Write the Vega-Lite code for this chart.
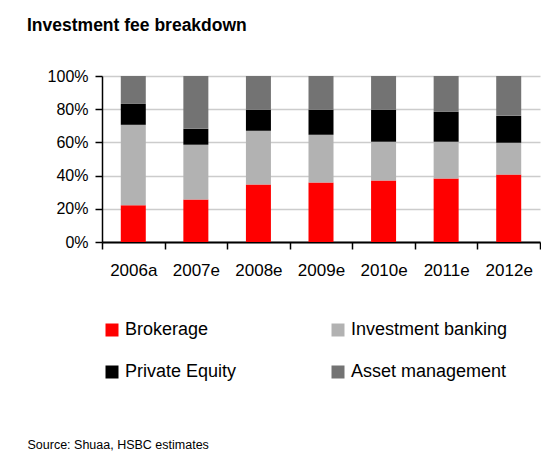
{
  "$schema": "https://vega.github.io/schema/vega-lite/v6.json",
  "width": 438,
  "height": 166,
  "autosize": "none",
  "padding": {"left": 102, "top": 76, "right": 1, "bottom": 212},
  "background": "white",
  "title": {
    "text": "Investment fee breakdown",
    "anchor": "start",
    "frame": "group",
    "dx": -75,
    "offset": 20,
    "fontSize": 17.5,
    "fontWeight": "bold",
    "font": "Liberation Sans",
    "color": "black",
    "baseline": "alphabetic"
  },
  "data": {
    "values": [
      {"year": "2006a", "segment": "Brokerage", "k": 1, "share": 22.2},
      {"year": "2006a", "segment": "Investment banking", "k": 2, "share": 48.4},
      {"year": "2006a", "segment": "Private Equity", "k": 3, "share": 12.6},
      {"year": "2006a", "segment": "Asset management", "k": 4, "share": 16.8},
      {"year": "2007e", "segment": "Brokerage", "k": 1, "share": 25.6},
      {"year": "2007e", "segment": "Investment banking", "k": 2, "share": 33.0},
      {"year": "2007e", "segment": "Private Equity", "k": 3, "share": 9.6},
      {"year": "2007e", "segment": "Asset management", "k": 4, "share": 31.8},
      {"year": "2008e", "segment": "Brokerage", "k": 1, "share": 34.6},
      {"year": "2008e", "segment": "Investment banking", "k": 2, "share": 32.4},
      {"year": "2008e", "segment": "Private Equity", "k": 3, "share": 12.6},
      {"year": "2008e", "segment": "Asset management", "k": 4, "share": 20.4},
      {"year": "2009e", "segment": "Brokerage", "k": 1, "share": 35.8},
      {"year": "2009e", "segment": "Investment banking", "k": 2, "share": 28.8},
      {"year": "2009e", "segment": "Private Equity", "k": 3, "share": 15.0},
      {"year": "2009e", "segment": "Asset management", "k": 4, "share": 20.4},
      {"year": "2010e", "segment": "Brokerage", "k": 1, "share": 37.0},
      {"year": "2010e", "segment": "Investment banking", "k": 2, "share": 23.4},
      {"year": "2010e", "segment": "Private Equity", "k": 3, "share": 19.2},
      {"year": "2010e", "segment": "Asset management", "k": 4, "share": 20.4},
      {"year": "2011e", "segment": "Brokerage", "k": 1, "share": 38.2},
      {"year": "2011e", "segment": "Investment banking", "k": 2, "share": 22.2},
      {"year": "2011e", "segment": "Private Equity", "k": 3, "share": 18.0},
      {"year": "2011e", "segment": "Asset management", "k": 4, "share": 21.6},
      {"year": "2012e", "segment": "Brokerage", "k": 1, "share": 40.6},
      {"year": "2012e", "segment": "Investment banking", "k": 2, "share": 19.2},
      {"year": "2012e", "segment": "Private Equity", "k": 3, "share": 16.2},
      {"year": "2012e", "segment": "Asset management", "k": 4, "share": 24.0}
    ]
  },
  "mark": {"type": "bar", "size": 25},
  "encoding": {
    "x": {
      "field": "year",
      "type": "nominal",
      "sort": null,
      "scale": {"paddingInner": 0, "paddingOuter": 0},
      "axis": {
        "title": "Source: Shuaa, HSBC estimates",
        "titleX": -75,
        "titleY": 206,
        "titleAlign": "left",
        "titleBaseline": "alphabetic",
        "titleFontSize": 12.5,
        "titleFontWeight": "normal",
        "titleColor": "black",
        "labelAngle": 0,
        "labelFontSize": 17,
        "labelColor": "black",
        "labelPadding": 13,
        "tickBand": "extent",
        "tickSize": 7,
        "tickColor": "black",
        "tickWidth": 1.5,
        "domainColor": "black",
        "domainWidth": 2,
        "grid": false
      }
    },
    "y": {
      "field": "share",
      "type": "quantitative",
      "stack": "normalize",
      "scale": {"domain": [0, 1]},
      "axis": {
        "title": null,
        "values": [0, 0.2, 0.4, 0.6, 0.8, 1],
        "format": ".0%",
        "labelFontSize": 16,
        "labelColor": "black",
        "labelPadding": 7,
        "tickSize": 7,
        "tickColor": "black",
        "tickWidth": 1.5,
        "domainColor": "black",
        "domainWidth": 1.5,
        "gridColor": "#cccccc",
        "gridWidth": 1.5
      }
    },
    "color": {
      "field": "segment",
      "type": "nominal",
      "scale": {
        "domain": ["Brokerage", "Private Equity", "Investment banking", "Asset management"],
        "range": ["#ff0000", "#000000", "#b2b2b2", "#737373"]
      },
      "legend": {
        "title": null,
        "orient": "none",
        "legendX": 1,
        "legendY": 245,
        "columns": 2,
        "columnPadding": 92,
        "rowPadding": 24,
        "symbolType": "square",
        "symbolSize": 169,
        "symbolStrokeWidth": 0,
        "labelFontSize": 18,
        "labelColor": "black",
        "labelOffset": 4,
        "labelLimit": 300,
        "padding": 0
      }
    },
    "order": {"field": "k", "type": "quantitative"}
  },
  "config": {"view": {"stroke": null}, "font": "Liberation Sans"}
}
